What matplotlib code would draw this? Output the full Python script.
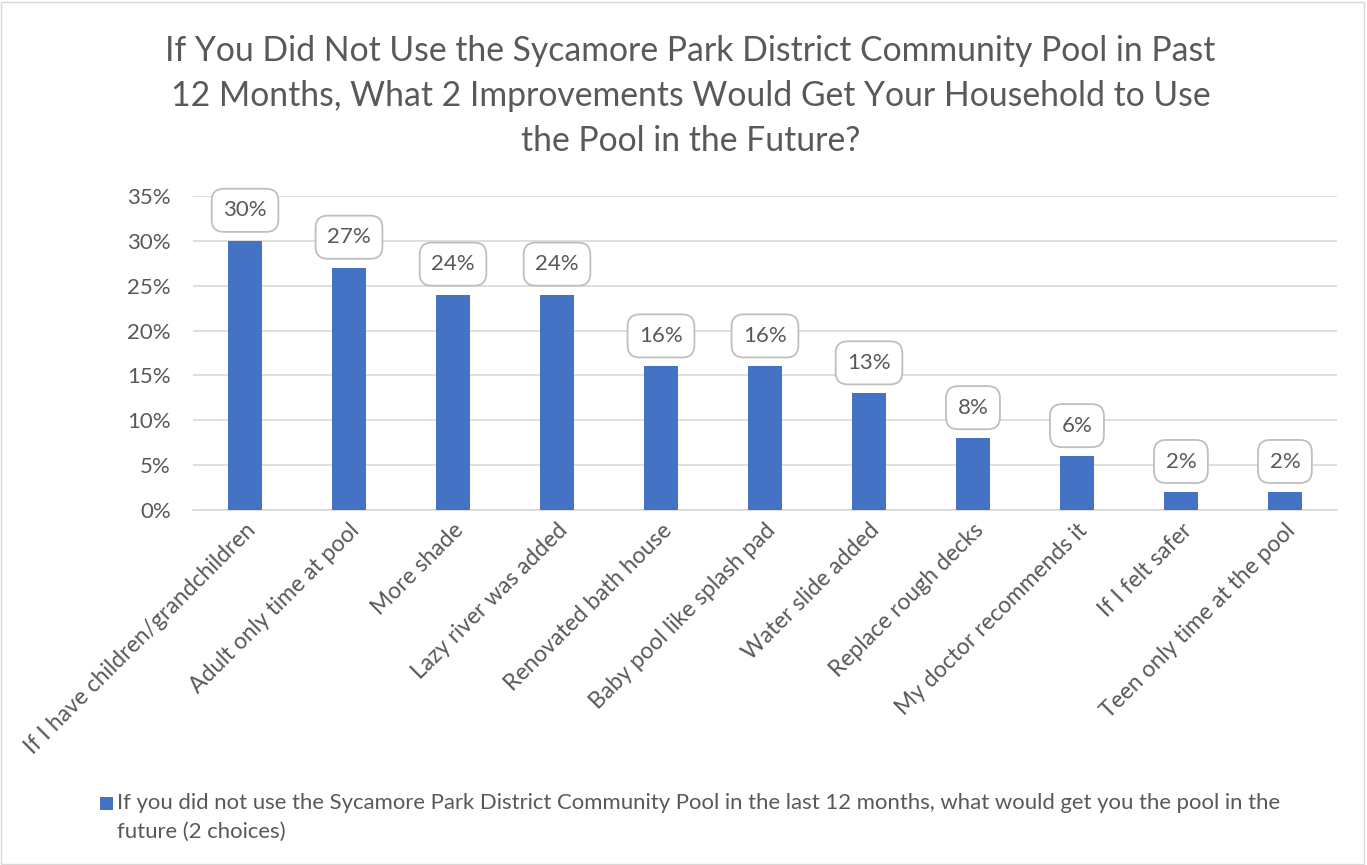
import matplotlib
matplotlib.use("Agg")
import matplotlib.pyplot as plt
from matplotlib.patches import Rectangle
from matplotlib.ticker import PercentFormatter

categories = ["If I have children/grandchildren", "Adult only time at pool", "More shade",
              "Lazy river was added", "Renovated bath house", "Baby pool like splash pad",
              "Water slide added", "Replace rough decks", "My doctor recommends it",
              "If I felt safer", "Teen only time at the pool"]
values = [30, 27, 24, 24, 16, 16, 13, 8, 6, 2, 2]
yticks = [0, 5, 10, 15, 20, 25, 30, 35]
title = ("If You Did Not Use the Sycamore Park District Community Pool in Past\n"
         "12 Months, What 2 Improvements Would Get Your Household to Use\n"
         "the Pool in the Future?")
legend_label = ("If you did not use the Sycamore Park District Community Pool in the last 12 months, what would get you the pool in the\n"
                "future (2 choices)")

plt.rcParams['font.family'] = ['Lato', 'DejaVu Sans']
txt = '#595959'
bar_color = '#4472C4'

fig = plt.figure(figsize=(13.67, 8.65), dpi=100)
fig.patch.set_facecolor('white')
fig.add_artist(Rectangle((0.001, 0.001), 0.997, 0.997, transform=fig.transFigure,
                         fill=False, edgecolor='#D9D9D9', linewidth=1))
ax = fig.add_axes([0.1412, 0.4104, 0.8368, 0.363])
x = list(range(len(categories)))
ax.bar(x, values, width=0.33, color=bar_color, zorder=3)
ax.set_xlim(-0.5, len(categories) - 0.5)
ax.set_ylim(0, 35)
ax.set_yticks(yticks)
ax.yaxis.set_major_formatter(PercentFormatter(decimals=0))
ax.grid(axis='y', color='#D9D9D9', linewidth=1.2, zorder=0)
for s in ['top', 'right', 'left']:
    ax.spines[s].set_visible(False)
ax.spines['bottom'].set_color('#D9D9D9')
ax.spines['bottom'].set_linewidth(1.2)
ax.tick_params(axis='both', length=0, colors=txt, labelsize=16)
ax.tick_params(axis='y', pad=16)
ax.set_xticks(x)
ax.set_xticklabels(categories, rotation=45, ha='right', rotation_mode='anchor', color=txt, fontsize=16.5)
ax.tick_params(axis='x', pad=7)

for xi, v in zip(x, values):
    ax.annotate(f"{v}%", (xi, v), xytext=(0, 22), textcoords='offset points',
                ha='center', va='center', fontsize=16, color=txt, zorder=5,
                bbox=dict(boxstyle='round,pad=0.52,rounding_size=0.55', facecolor='white',
                          edgecolor='#BFBFBF', linewidth=1.3))

fig.text(0.505, 0.818, title, ha='center', va='bottom', fontsize=24.3, color=txt, linespacing=1.5)

fig.add_artist(Rectangle((0.0732, 0.0635), 0.0095, 0.015, transform=fig.transFigure,
                         facecolor=bar_color, edgecolor='none'))
fig.text(0.0855, 0.083, legend_label, ha='left', va='top', fontsize=15.9, color=txt,
         linespacing=1.55, transform=fig.transFigure)

fig.savefig('out.png', dpi=100, facecolor='white')
